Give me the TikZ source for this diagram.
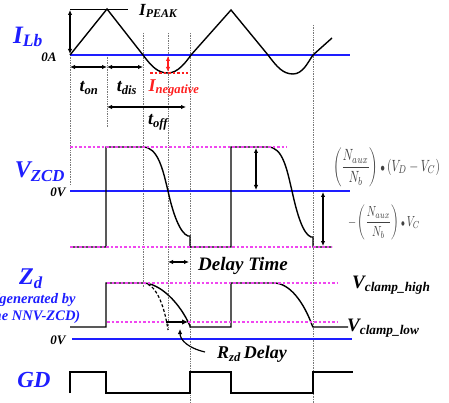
\documentclass[tikz,border=0pt]{standalone}
\usepackage{amsmath}
\usepackage{graphicx}
\usepackage{fontspec}
\setmainfont{Liberation Serif}
\usetikzlibrary{arrows.meta}
\definecolor{myblue}{RGB}{30,30,255}
\definecolor{mypink}{RGB}{240,70,240}
\definecolor{myred}{RGB}{255,30,30}
\definecolor{guidegray}{RGB}{120,120,120}
\newcommand\lbsub[2]{#1\textsubscript{#2}}
\tikzset{
  wave/.style={line width=1.4pt, black, line join=miter},
  axisline/.style={line width=1.6pt, myblue},
  guide/.style={densely dotted, guidegray, line width=0.7pt},
  level/.style={mypink, dash pattern=on 2.5pt off 2pt, line width=1.2pt},
  dim/.style={{Latex[length=5pt,width=4.5pt]}-{Latex[length=5pt,width=4.5pt]}, line width=1.2pt},
  fs/.style={font=\bfseries\itshape\fontsize{#1}{#1}\selectfont, inner sep=0pt},
}
\begin{document}
\begin{tikzpicture}[x=1pt,y=-1pt]
\useasboundingbox (0,0) rectangle (449,403);

% guides
\draw[guide] (70,55) -- (70,185);
\draw[guide] (107,55) -- (107,128);
\draw[guide] (143,33) -- (143,288);
\draw[guide] (168,33) -- (168,330);
\draw[guide] (190,33) -- (190,403);
\draw[guide] (313,25) -- (313,403);

% blue axes
\draw[axisline] (70,55) -- (350,55);
\draw[axisline] (70,191) -- (350,191);
\draw[axisline] (72,339) -- (352,339);

% I_Lb waveform
\draw[wave] (70,55) -- (107,9) -- (143,55) .. controls (152,67) and (158,73) .. (168,73) .. controls (178,73) and (186,62) .. (191,55) -- (231,10) -- (268,55) .. controls (277,67) and (283,74) .. (293,74) .. controls (303,74) and (308,62) .. (313,55) -- (332,38);
\draw[line width=1.2pt] (70,9.5) -- (128,9.5);
\draw[dim] (70,10) -- (70,54);
\node[fs=17, anchor=west] (ipeak) at (139,11) {\lbsub{I}{PEAK}};
\draw[dim] (70,67) -- (107,67);
\draw[dim] (107,67) -- (143,67);
\draw[dim] (107,107) -- (186,107);
\node[fs=18] (ton) at (89,88) {\lbsub{t}{on}};
\node[fs=18] (tdis) at (127,88) {\lbsub{t}{dis}};
\node[fs=18] (toff) at (158,122) {\lbsub{t}{off}};
\draw[myred, dash pattern=on 2.5pt off 2pt, line width=1.2pt] (150,73) -- (188,73);
\draw[dim, myred] (168,56) -- (168,72);
\node[fs=18, myred] (ineg) at (174,88) {\lbsub{I}{negative}};

% left labels
\node[fs=25, myblue] (ilb) at (28,37) {\lbsub{I}{Lb}};
\node[fs=13] (zeroa) at (49,57) {0A};
\node[fs=24, myblue] (vzcd) at (40,172) {\lbsub{V}{ZCD}};
\node[fs=13] (zerov1) at (58,192) {0V};
\node[fs=24, myblue] (zd) at (31,279) {\lbsub{Z}{d}};
\node[font=\bfseries\itshape\fontsize{14.5}{17}\selectfont, myblue, align=center, inner sep=0pt] (gen) at (35,309) {(generated by\\the NNV-ZCD)};
\node[fs=13] (zerov2) at (58,340) {0V};
\node[fs=23, myblue] (gd) at (34,380) {GD};

% V_ZCD waveform
\draw[wave] (70,247) -- (106,247) -- (106,147) -- (143,147) .. controls (158,147) and (163,170) .. (168,191) .. controls (173,214) and (180,233) .. (188,236) -- (190,236) -- (190,247) -- (231,247) -- (231,147) -- (268,147) .. controls (283,147) and (287,170) .. (292,191) .. controls (297,214) and (303,234) .. (311,237) -- (313,237) -- (313,247) -- (332,247);
\draw[level] (70,147) -- (287,147);
\draw[level] (70,247) -- (332,247);
\draw[dim] (256,148) -- (256,190);
\draw[dim] (323,192) -- (323,246);
\node[black!75, inner sep=0pt] (f1) at (386.5,167.5) {\resizebox*{107pt}{39pt}{$\displaystyle\left(\frac{N_{aux}}{N_b}\right){\scriptstyle\bullet}\,(V_D-V_C)$}};
\node[black!75, inner sep=0pt] (f2) at (384,222.5) {\resizebox*{72pt}{35pt}{$\displaystyle-\left(\frac{N_{aux}}{N_b}\right){\scriptstyle\bullet}\,V_C$}};

% Delay time
\draw[dim] (168,262) -- (189,262);
\node[fs=19, anchor=west] (dtime) at (198,266) {Delay Time};

% Z_d waveform
\draw[wave] (70,327) -- (106,327) -- (106,283) -- (143,283) .. controls (160,283) and (180,303) .. (190,326) -- (190,327) -- (231,327) -- (231,283) -- (274,283) .. controls (290,283) and (304,303) .. (312,325) -- (313,327) -- (348,327);
\draw[wave, dash pattern=on 3pt off 2pt, line width=1.2pt] (143,283) .. controls (155,283) and (164,303) .. (168,330);
\draw[level] (107,283) -- (338,283);
\draw[level] (107,322) -- (338,322);
\draw[-{Latex[length=6pt,width=5.5pt]}, line width=1.8pt] (166,322) -- (188,322);
\node[fs=18, anchor=west] (rzd) at (217,354) {\lbsub{R}{zd}\,Delay};
\draw[-{Latex[length=5pt,width=4.5pt]}, line width=1.2pt] (rzd.west) ++(-12,-2) .. controls (188,348) and (180,340) .. (180,329);
\node[fs=19, anchor=west] (vch) at (352,285) {\lbsub{V}{clamp\_high}};
\node[fs=19, anchor=west] (vcl) at (347,328) {\lbsub{V}{clamp\_low}};

% GD waveform
\draw[wave] (70,393) -- (70,372) -- (106,372) -- (106,393) -- (190,393) -- (190,372) -- (231,372) -- (231,393) -- (313,393) -- (313,372) -- (353,372);
\end{tikzpicture}
\end{document}
